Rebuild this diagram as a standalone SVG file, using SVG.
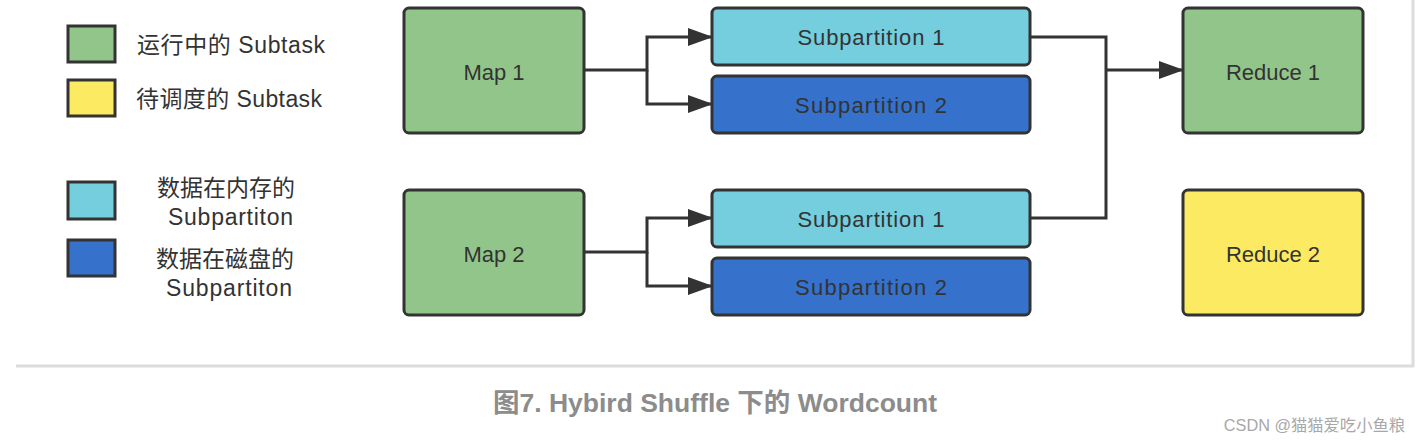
<svg xmlns="http://www.w3.org/2000/svg" width="1420" height="444" viewBox="0 0 1420 444">
<style>
.box{stroke:#333;stroke-width:3}
.green{fill:#92c58a}.yellow{fill:#fceb62}.cyan{fill:#74cede}.blue{fill:#3672cc}
.t{font-family:"Liberation Sans","Noto Sans CJK SC",sans-serif;font-size:22px;fill:#333}
.lg{font-size:23px}
.c{text-anchor:middle}
.wire{fill:none;stroke:#333;stroke-width:3}
</style>
<defs>
<marker id="arr" markerWidth="25" markerHeight="18" refX="24" refY="9" orient="auto" markerUnits="userSpaceOnUse">
<path d="M0,0 L25,9 L0,18 Z" fill="#333"/>
</marker>
</defs>
<rect width="1420" height="444" fill="#fff"/>
<g id="frame">
<line x1="16" y1="366" x2="1414" y2="366" stroke="#dcdcdc" stroke-width="3"/>
<line x1="1413" y1="0" x2="1413" y2="367" stroke="#dcdcdc" stroke-width="3"/>
</g>
<g id="legend">
<g id="leg-running"><rect class="box green" x="68" y="26" width="47" height="36"/><text class="t lg" x="137" y="53" textLength="188">运行中的 Subtask</text></g>
<g id="leg-pending"><rect class="box yellow" x="68" y="80" width="47" height="36"/><text class="t lg" x="136" y="107" textLength="186">待调度的 Subtask</text></g>
<g id="leg-mem"><rect class="box cyan" x="68" y="182" width="47" height="37"/><text class="t lg" x="157" y="196">数据在内存的</text><text class="t lg" x="168" y="225" textLength="125">Subpartiton</text></g>
<g id="leg-disk"><rect class="box blue" x="68" y="240" width="47" height="36"/><text class="t lg" x="156" y="267">数据在磁盘的</text><text class="t lg" x="166" y="296" textLength="126">Subpartiton</text></g>
</g>
<g id="connectors">
<polyline class="wire" points="584,70 647,70 647,37 712,37" marker-end="url(#arr)"/>
<polyline class="wire" points="647,70 647,104 712,104" marker-end="url(#arr)"/>
<polyline class="wire" points="584,252 647,252 647,218 712,218" marker-end="url(#arr)"/>
<polyline class="wire" points="647,252 647,286 712,286" marker-end="url(#arr)"/>
<polyline class="wire" points="1030,37 1106,37 1106,218 1030,218"/>
<polyline class="wire" points="1106,70 1183,70" marker-end="url(#arr)"/>
</g>
<g id="map1"><rect class="box green" x="404" y="8" width="180" height="125" rx="5"/><text class="t c" x="494" y="80">Map 1</text></g>
<g id="map2"><rect class="box green" x="404" y="190" width="180" height="125" rx="5"/><text class="t c" x="494" y="262">Map 2</text></g>
<g id="m1s1"><rect class="box cyan" x="712" y="8" width="318" height="57" rx="5"/><text class="t c" x="871" y="45" textLength="147">Subpartition 1</text></g>
<g id="m1s2"><rect class="box blue" x="712" y="76" width="318" height="57" rx="5"/><text class="t c" x="871" y="113" textLength="152">Subpartition 2</text></g>
<g id="m2s1"><rect class="box cyan" x="712" y="190" width="318" height="57" rx="5"/><text class="t c" x="871" y="227" textLength="147">Subpartition 1</text></g>
<g id="m2s2"><rect class="box blue" x="712" y="258" width="318" height="57" rx="5"/><text class="t c" x="871" y="295" textLength="152">Subpartition 2</text></g>
<g id="reduce1"><rect class="box green" x="1183" y="8" width="180" height="125" rx="5"/><text class="t c" x="1273" y="80">Reduce 1</text></g>
<g id="reduce2"><rect class="box yellow" x="1183" y="190" width="180" height="125" rx="5"/><text class="t c" x="1273" y="262">Reduce 2</text></g>
<g id="caption">
<text x="715" y="412" text-anchor="middle" font-family="Liberation Sans,Noto Sans CJK SC,sans-serif" font-size="26.5" font-weight="bold" fill="#8c8c8c">图7. Hybird Shuffle 下的 Wordcount</text>
<text x="1405" y="431" text-anchor="end" font-family="Liberation Sans,Noto Sans CJK SC,sans-serif" font-size="16.3" fill="#a8a8a8">CSDN @猫猫爱吃小鱼粮</text>
</g>
</svg>
